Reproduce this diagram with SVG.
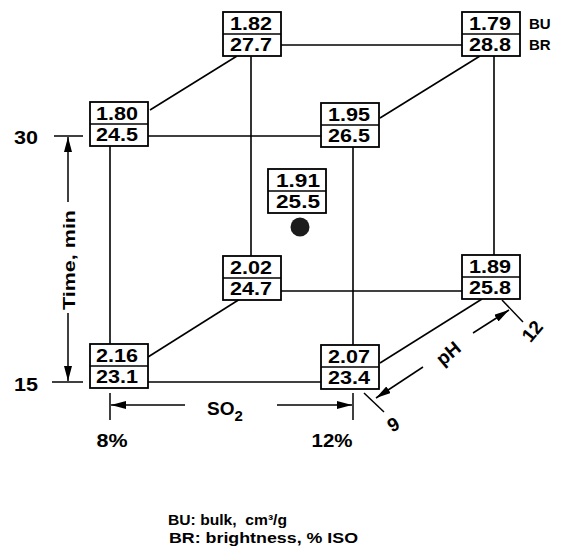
<svg xmlns="http://www.w3.org/2000/svg" width="561" height="556" viewBox="0 0 561 556">
<style>
.bx{fill:#fff;stroke:#000;stroke-width:1.8}
.dv{stroke:#000;stroke-width:1.6}
.v{font-family:"Liberation Sans",Arial,sans-serif;font-weight:bold;font-size:18px;fill:#000;text-anchor:middle}
.t{font-family:"Liberation Sans",Arial,sans-serif;font-weight:bold;fill:#000}
.ln{stroke:#000;stroke-width:1.6;fill:none}
.ax{stroke:#000;stroke-width:1.5;fill:none}
</style>
<defs>
<marker id="ah" viewBox="0 0 15 8" refX="15" refY="4" markerWidth="15" markerHeight="8" orient="auto" markerUnits="userSpaceOnUse">
<path d="M0,0 L15,4 L0,8 z" fill="#000"/>
</marker>
</defs>
<rect width="561" height="556" fill="#fff"/>

<g id="connectors">
<line class="ln" x1="281" y1="45" x2="462" y2="45"/>
<line class="ln" x1="148" y1="136" x2="321" y2="136"/>
<line class="ln" x1="281" y1="291" x2="462" y2="291"/>
<line class="ln" x1="148" y1="382" x2="321" y2="382"/>
<line class="ln" x1="110" y1="146" x2="110" y2="344"/>
<line class="ln" x1="251" y1="56" x2="251" y2="256"/>
<line class="ln" x1="494" y1="56" x2="494" y2="255"/>
<line class="ln" x1="353" y1="147" x2="353" y2="345"/>
<line class="ln" x1="237" y1="56" x2="150" y2="110"/>
<line class="ln" x1="480" y1="56" x2="380" y2="118"/>
<line class="ln" x1="240" y1="299" x2="148" y2="357"/>
<line class="ln" x1="482" y1="299" x2="380" y2="363"/>
</g>

<g id="node-1-82"><rect class="bx" x="223" y="12" width="58" height="44"/><line class="dv" x1="223" y1="34" x2="281" y2="34"/><text class="v" x="251" y="30" textLength="42" lengthAdjust="spacingAndGlyphs">1.82</text><text class="v" x="251" y="51" textLength="42" lengthAdjust="spacingAndGlyphs">27.7</text></g>
<g id="node-1-79"><rect class="bx" x="462" y="12" width="58" height="44"/><line class="dv" x1="462" y1="34" x2="520" y2="34"/><text class="v" x="490" y="30" textLength="42" lengthAdjust="spacingAndGlyphs">1.79</text><text class="v" x="490" y="51" textLength="42" lengthAdjust="spacingAndGlyphs">28.8</text></g>
<g id="node-1-80"><rect class="bx" x="90" y="102" width="58" height="44"/><line class="dv" x1="90" y1="124" x2="148" y2="124"/><text class="v" x="117" y="120" textLength="42" lengthAdjust="spacingAndGlyphs">1.80</text><text class="v" x="117" y="141" textLength="42" lengthAdjust="spacingAndGlyphs">24.5</text></g>
<g id="node-1-95"><rect class="bx" x="321" y="103" width="58" height="44"/><line class="dv" x1="321" y1="125" x2="379" y2="125"/><text class="v" x="349" y="121" textLength="42" lengthAdjust="spacingAndGlyphs">1.95</text><text class="v" x="349" y="142" textLength="42" lengthAdjust="spacingAndGlyphs">26.5</text></g>
<g id="node-1-91"><rect class="bx" x="268" y="169" width="58" height="44"/><line class="dv" x1="268" y1="191" x2="326" y2="191"/><text class="v" x="298" y="187" textLength="44" lengthAdjust="spacingAndGlyphs">1.91</text><text class="v" x="298" y="208" textLength="44" lengthAdjust="spacingAndGlyphs">25.5</text><circle cx="300" cy="227" r="9.5" fill="#1c1c1c"/></g>
<g id="node-2-02"><rect class="bx" x="223" y="256" width="58" height="44"/><line class="dv" x1="223" y1="278" x2="281" y2="278"/><text class="v" x="251" y="274" textLength="42" lengthAdjust="spacingAndGlyphs">2.02</text><text class="v" x="251" y="295" textLength="42" lengthAdjust="spacingAndGlyphs">24.7</text></g>
<g id="node-1-89"><rect class="bx" x="462" y="255" width="58" height="44"/><line class="dv" x1="462" y1="277" x2="520" y2="277"/><text class="v" x="490" y="273" textLength="42" lengthAdjust="spacingAndGlyphs">1.89</text><text class="v" x="490" y="294" textLength="42" lengthAdjust="spacingAndGlyphs">25.8</text></g>
<g id="node-2-16"><rect class="bx" x="90" y="344" width="58" height="44"/><line class="dv" x1="90" y1="366" x2="148" y2="366"/><text class="v" x="117" y="362" textLength="42" lengthAdjust="spacingAndGlyphs">2.16</text><text class="v" x="117" y="383" textLength="42" lengthAdjust="spacingAndGlyphs">23.1</text></g>
<g id="node-2-07"><rect class="bx" x="321" y="345" width="58" height="44"/><line class="dv" x1="321" y1="367" x2="379" y2="367"/><text class="v" x="349" y="363" textLength="42" lengthAdjust="spacingAndGlyphs">2.07</text><text class="v" x="349" y="384" textLength="42" lengthAdjust="spacingAndGlyphs">23.4</text></g>

<g id="labels-bu-br">
<text class="t" x="529" y="29" font-size="15">BU</text>
<text class="t" x="529" y="50" font-size="15">BR</text>
</g>

<g id="axis-time">
<line class="ax" x1="54" y1="136" x2="83" y2="136"/>
<line class="ax" x1="52" y1="382" x2="83" y2="382"/>
<line class="ax" x1="68" y1="202" x2="68" y2="137" marker-end="url(#ah)"/>
<line class="ax" x1="68" y1="313" x2="68" y2="381" marker-end="url(#ah)"/>
<text class="t" x="38" y="144" font-size="18" text-anchor="end" textLength="24" lengthAdjust="spacingAndGlyphs">30</text>
<text class="t" x="38" y="391" font-size="18" text-anchor="end" textLength="24" lengthAdjust="spacingAndGlyphs">15</text>
<text class="t" transform="translate(75,260) rotate(-90)" font-size="17" text-anchor="middle" textLength="100" lengthAdjust="spacingAndGlyphs">Time, min</text>
</g>

<g id="axis-so2">
<line class="ax" x1="110" y1="393" x2="110" y2="420"/>
<line class="ax" x1="353" y1="393" x2="353" y2="420"/>
<line class="ax" x1="185" y1="405" x2="111" y2="405" marker-end="url(#ah)"/>
<line class="ax" x1="277" y1="405" x2="352" y2="405" marker-end="url(#ah)"/>
<text class="t" x="207" y="415" font-size="19">SO<tspan font-size="15" dy="6">2</tspan></text>
<text class="t" x="112" y="447" font-size="19" text-anchor="middle" textLength="31" lengthAdjust="spacingAndGlyphs">8%</text>
<text class="t" x="332" y="447" font-size="19" text-anchor="middle" textLength="41" lengthAdjust="spacingAndGlyphs">12%</text>
</g>

<g id="axis-ph">
<line class="ax" x1="502" y1="300" x2="523" y2="322"/>
<line class="ax" x1="364" y1="393" x2="384" y2="412"/>
<line class="ax" x1="473" y1="333" x2="509" y2="310" marker-end="url(#ah)"/>
<line class="ax" x1="423" y1="367" x2="376" y2="398" marker-end="url(#ah)"/>
<text class="t" transform="translate(448,353) rotate(-40)" y="7" font-size="19" text-anchor="middle">pH</text>
<text class="t" transform="translate(532,331) rotate(-50)" y="7" font-size="19" text-anchor="middle">12</text>
<text class="t" transform="translate(393,424) rotate(-30)" y="7" font-size="19" text-anchor="middle">9</text>
</g>

<g id="legend">
<text class="t" x="168" y="525" font-size="15" textLength="119" lengthAdjust="spacingAndGlyphs" xml:space="preserve">BU: bulk,  cm³/g</text>
<text class="t" x="169" y="543" font-size="15" textLength="189" lengthAdjust="spacingAndGlyphs">BR: brightness, % ISO</text>
</g>
</svg>
